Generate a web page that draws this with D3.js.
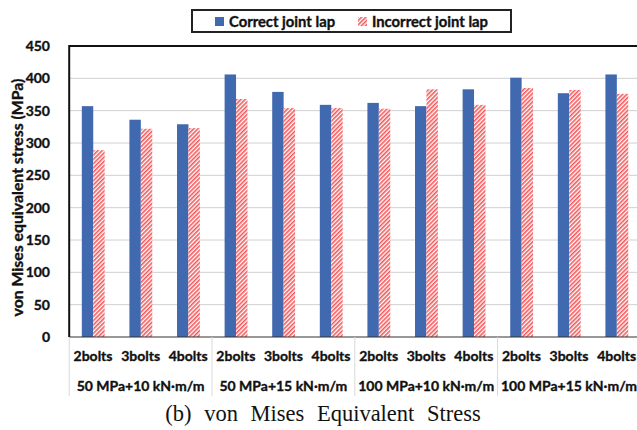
<!DOCTYPE html>
<html><head><meta charset="utf-8">
<script src="https://cdn.jsdelivr.net/npm/d3@7/dist/d3.min.js"></script>
<style>body{margin:0;background:#fff}svg{display:block}.bt{paint-order:stroke;stroke:#111;stroke-width:0.35px}</style>
</head><body><svg id="c" width="637" height="430"></svg>
<script>
const bolts = ["2bolts", "3bolts", "4bolts"];
const loads = ["50 MPa+10 kN·m/m", "50 MPa+15 kN·m/m", "100 MPa+10 kN·m/m", "100 MPa+15 kN·m/m"];
const seriesNames = ["Correct joint lap", "Incorrect joint lap"];
const correct = [357, 336, 329, 406, 379, 359, 362, 357, 383, 401, 377, 406];
const incorrect = [289, 322, 323, 368, 354, 354, 353, 383, 359, 385, 382, 376];
const yTicks = [0, 50, 100, 150, 200, 250, 300, 350, 400, 450];
const yTitle = "von Mises equivalent stress (MPa)";
const caption = "(b) von Mises Equivalent Stress";

const cats = [];
loads.forEach((l, li) => bolts.forEach((b, bi) => cats.push({id: li * 3 + bi, bolt: b, load: l})));
const rows = cats.map((c, i) => ({...c, values: [correct[i], incorrect[i]]}));

const svg = d3.select("#c");
const L = 69.2, R = 640.4, T = 46, B = 337;
const FONT = "Lato, 'Open Sans', sans-serif";
const blue = "#4169b0", red = "#f5575a";

const defs = svg.append("defs");
const pat = defs.append("pattern").attr("id", "hatch").attr("patternUnits", "userSpaceOnUse")
  .attr("width", 3).attr("height", 3).attr("patternTransform", "rotate(45)");
pat.append("rect").attr("width", 3).attr("height", 3).attr("fill", "#fff");
pat.append("rect").attr("width", 1.6).attr("height", 3).attr("fill", red);

const x = d3.scaleBand().domain(cats.map(c => c.id)).range([L, R]).padding(0);
const xs = d3.scaleBand().domain([0, 1]).range([x.bandwidth() * 0.265, x.bandwidth() * 0.745]).padding(0);
const y = d3.scaleLinear().domain([0, 450]).range([B, T]);

// gridlines
svg.append("g").selectAll("line").data(yTicks.filter(t => t > 0 && t < 450)).join("line")
  .attr("x1", L).attr("x2", R).attr("y1", d => y(d)).attr("y2", d => y(d))
  .attr("stroke", "#d0d0d0").attr("stroke-width", 1);

// bars
const g = svg.append("g").selectAll("g").data(rows).join("g")
  .attr("transform", d => `translate(${x(d.id)},0)`);
g.selectAll("rect").data(d => d.values.map((v, k) => ({k, v}))).join("rect")
  .attr("x", d => xs(d.k)).attr("width", xs.bandwidth())
  .attr("y", d => y(d.v)).attr("height", d => y(0) - y(d.v))
  .attr("fill", d => d.k === 0 ? blue : "url(#hatch)");

// frame lines
svg.append("line").attr("x1", L).attr("x2", R).attr("y1", T).attr("y2", T).attr("stroke", "#111").attr("stroke-width", 2);
svg.append("line").attr("x1", L).attr("x2", R).attr("y1", B).attr("y2", B).attr("stroke", "#333").attr("stroke-width", 1.2);
svg.append("line").attr("x1", L).attr("x2", L).attr("y1", T - 1).attr("y2", B).attr("stroke", "#111").attr("stroke-width", 2);

// y axis labels
const yAxis = d3.axisLeft(y).tickValues(yTicks).tickSize(0).tickPadding(0);
const ya = svg.append("g").attr("transform", `translate(50,0)`).call(yAxis);
ya.select(".domain").remove();
ya.selectAll("text").attr("class", "bt").attr("font-family", FONT).attr("font-weight", "bold").attr("font-size", 14).attr("fill", "#111");

// x category separators
const seps = d3.range(loads.length + 1).map(i => L + i * 3 * x.step());
svg.append("g").selectAll("line").data(seps).join("line")
  .attr("x1", d => d).attr("x2", d => d).attr("y1", B).attr("y2", 396)
  .attr("stroke", "#d9d9d9").attr("stroke-width", 1);

// bolt labels
const xAxis = d3.axisBottom(x).tickFormat(i => cats[i].bolt).tickSize(0).tickPadding(0);
const xa = svg.append("g").attr("transform", `translate(0,${B})`).call(xAxis);
xa.select(".domain").remove();
xa.selectAll("text").attr("class", "bt").attr("dy", null).attr("y", 24).attr("font-family", FONT).attr("font-weight", "bold").attr("font-size", 14).attr("fill", "#111");

// load labels
svg.append("g").selectAll("text").data(loads).join("text")
  .attr("class", "bt")
  .attr("x", (d, i) => L + (i * 3 + 1.5) * x.step()).attr("y", 391)
  .attr("text-anchor", "middle").attr("font-family", FONT).attr("font-weight", "bold").attr("font-size", 14).attr("fill", "#111")
  .text(d => d);

// y title
svg.append("text").attr("class", "bt").attr("transform", `translate(23,${(T + B) / 2 + 6}) rotate(-90)`)
  .attr("text-anchor", "middle").attr("font-family", FONT).attr("font-weight", "bold").attr("font-size", 15.8).attr("fill", "#111")
  .text(yTitle);

// legend
const lg = svg.append("g");
lg.append("rect").attr("x", 192).attr("y", 10).attr("width", 319).attr("height", 22)
  .attr("fill", "#fff").attr("stroke", "#222").attr("stroke-width", 2);
const lx = [215, 358];
seriesNames.forEach((s, i) => {
  lg.append("rect").attr("x", lx[i]).attr("y", 17).attr("width", 9).attr("height", 9)
    .attr("fill", i === 0 ? blue : "url(#hatch)");
  lg.append("text").attr("class", "bt").attr("x", lx[i] + 14).attr("y", 26.5).attr("font-family", FONT).attr("font-weight", "bold")
    .attr("font-size", 14.8).attr("fill", "#111").text(s);
});

// caption
svg.append("text").attr("x", 323).attr("y", 421).attr("text-anchor", "middle")
  .attr("font-family", "'Liberation Serif', 'Times New Roman', serif").attr("font-size", 22.5)
  .attr("word-spacing", 7).attr("fill", "#111").text(caption);
</script></body></html>
